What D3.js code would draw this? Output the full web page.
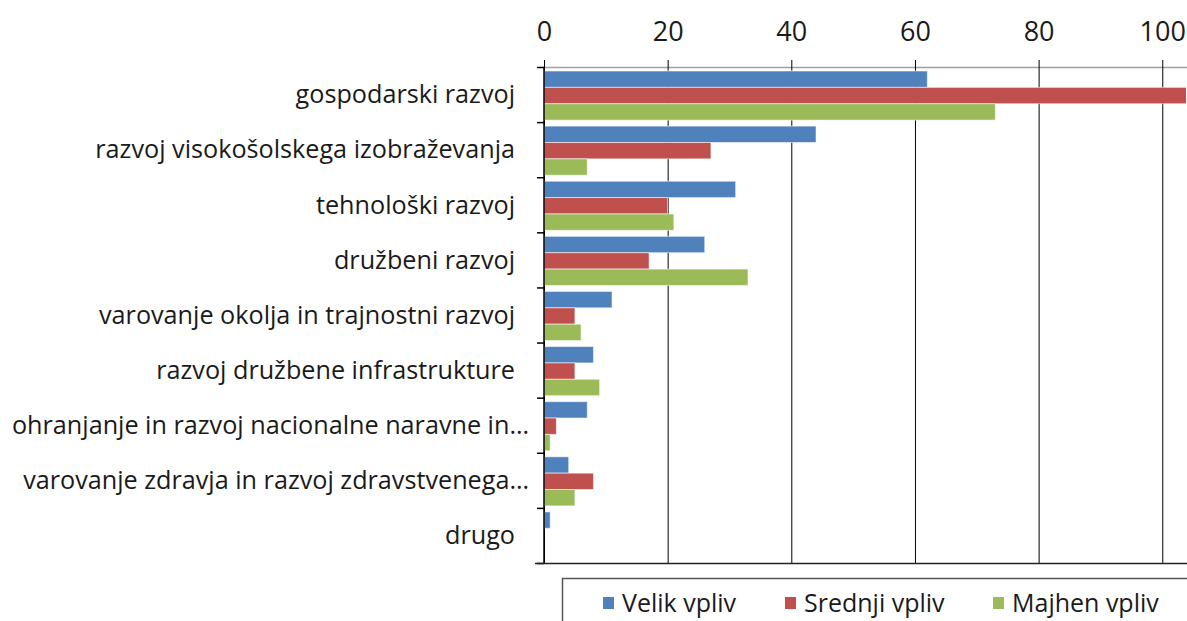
<!DOCTYPE html>
<html>
<head>
<meta charset="utf-8">
<script src="https://cdn.jsdelivr.net/npm/d3@7"></script>
<style>
  body { margin: 0; background: #fff; }
  text { font-family: "Open Sans", sans-serif; fill: #1a1a1a; }
</style>
</head>
<body>
<div id="chart"></div>
<script>
// Sizing
const svgWidth = 1187,
  svgHeight = 621;
const plotLeft = 544,
  plotTop = 67,
  plotBottom = 563;

// Content
const categories = [
  "gospodarski razvoj",
  "razvoj visokošolskega izobraževanja",
  "tehnološki razvoj",
  "družbeni razvoj",
  "varovanje okolja in trajnostni razvoj",
  "razvoj družbene infrastrukture",
  "ohranjanje in razvoj nacionalne naravne in…",
  "varovanje zdravja in razvoj zdravstvenega…",
  "drugo"
];
const seriesNames = ["Velik vpliv", "Srednji vpliv", "Majhen vpliv"];
const velik = [62, 44, 31, 26, 11, 8, 7, 4, 1];
const srednji = [104, 27, 20, 17, 5, 5, 2, 8, 0];
const majhen = [73, 7, 21, 33, 6, 9, 1, 5, 0];
const xTicks = [0, 20, 40, 60, 80, 100];

// Colouring
const colors = ["#4F81BD", "#C0504D", "#9BBB59"];

const seriesValues = [velik, srednji, majhen];

var svg = d3.select("#chart")
  .append("svg")
  .attr("width", svgWidth)
  .attr("height", svgHeight);

/** scales */
var x = d3.scaleLinear()
  .domain([0, 104])
  .range([plotLeft, svgWidth]);

var y = d3.scaleBand()
  .domain(categories)
  .range([plotTop, plotBottom]);

var ySub = d3.scaleBand()
  .domain(seriesNames)
  .range([4, y.bandwidth() - 2]);

var color = d3.scaleOrdinal()
  .domain(seriesNames)
  .range(colors);

// top axis line (gray)
svg.append("line")
  .attr("x1", plotLeft).attr("x2", svgWidth)
  .attr("y1", plotTop + 0.5).attr("y2", plotTop + 0.5)
  .style("stroke", "#a0a0a0")
  .style("stroke-width", 1.5);

/** gridlines + tick labels via axisTop */
var xAxis = svg.append("g")
  .attr("transform", "translate(0," + plotTop + ")")
  .call(d3.axisTop(x).tickValues(xTicks).tickSize(7).tickPadding(19));
xAxis.select(".domain").remove();
xAxis.selectAll("text")
  .style("font-size", "27px")
  .style("font-family", "'Open Sans', sans-serif")
  .attr("fill", "#1a1a1a");
xAxis.selectAll(".tick line").clone()
  .attr("y2", plotBottom - plotTop)
  .style("stroke", "#000");
xAxis.selectAll(".tick line").style("stroke", "#000");

/** bars */
svg.append("clipPath").attr("id", "plotClip")
  .append("rect")
  .attr("x", plotLeft).attr("y", plotTop)
  .attr("width", svgWidth - plotLeft - 1).attr("height", plotBottom - plotTop);

var groups = svg.append("g")
  .attr("clip-path", "url(#plotClip)")
  .selectAll("g")
  .data(categories)
  .enter().append("g")
  .attr("transform", (d) => "translate(0," + y(d) + ")");

groups.selectAll("rect")
  .data((d, i) => seriesNames.map((s, j) => ({ series: s, value: seriesValues[j][i] })))
  .enter().append("rect")
  .filter((d) => d.value > 0)
  .attr("x", x(0))
  .attr("y", (d) => ySub(d.series))
  .attr("width", (d) => x(d.value) - x(0))
  .attr("height", ySub.bandwidth())
  .style("fill", (d) => color(d.series))
  .style("stroke", "rgba(255,255,255,0.55)")
  .style("stroke-width", 1);

/** left axis */
var yAxis = svg.append("g")
  .attr("transform", "translate(" + plotLeft + ",0)");
yAxis.append("line")
  .attr("x1", 0).attr("x2", 0)
  .attr("y1", plotTop).attr("y2", plotBottom)
  .style("stroke", "#000").style("stroke-width", 1.5);
yAxis.selectAll(".cat-tick")
  .data(categories.concat(["__end"]))
  .enter().append("line")
  .attr("x1", -7).attr("x2", 0)
  .attr("y1", (d, i) => plotTop + i * y.step() + 0.5)
  .attr("y2", (d, i) => plotTop + i * y.step() + 0.5)
  .style("stroke", "#000").style("stroke-width", 1.5);

// bottom line
svg.append("line")
  .attr("x1", plotLeft - 9).attr("x2", svgWidth)
  .attr("y1", plotBottom + 0.5).attr("y2", plotBottom + 0.5)
  .style("stroke", "#222").style("stroke-width", 1.5);

// category labels
svg.append("g")
  .selectAll("text")
  .data(categories)
  .enter().append("text")
  .attr("x", (d) => d.endsWith("…") ? 529 : 515)
  .attr("y", (d) => y(d) + y.bandwidth() / 2)
  .attr("dy", "0.35em")
  .style("text-anchor", "end")
  .style("font-size", "25.2px")
  .text((d) => d);

/** legend */
var legend = svg.append("g");
legend.append("rect")
  .attr("x", 562.5).attr("y", 578.5)
  .attr("width", 700).attr("height", 100)
  .style("fill", "none")
  .style("stroke", "#555")
  .style("stroke-width", 1.5);

const legendX = [603, 785, 993];
var item = legend.selectAll(".item")
  .data(seriesNames)
  .enter().append("g")
  .attr("transform", (d, i) => "translate(" + legendX[i] + ",603)");
item.append("rect")
  .attr("x", 0).attr("y", -6)
  .attr("width", 11).attr("height", 12)
  .style("fill", color);
item.append("text")
  .attr("x", 19)
  .attr("dy", "0.35em")
  .style("font-size", "25px")
  .text((d) => d);
</script>
</body>
</html>
